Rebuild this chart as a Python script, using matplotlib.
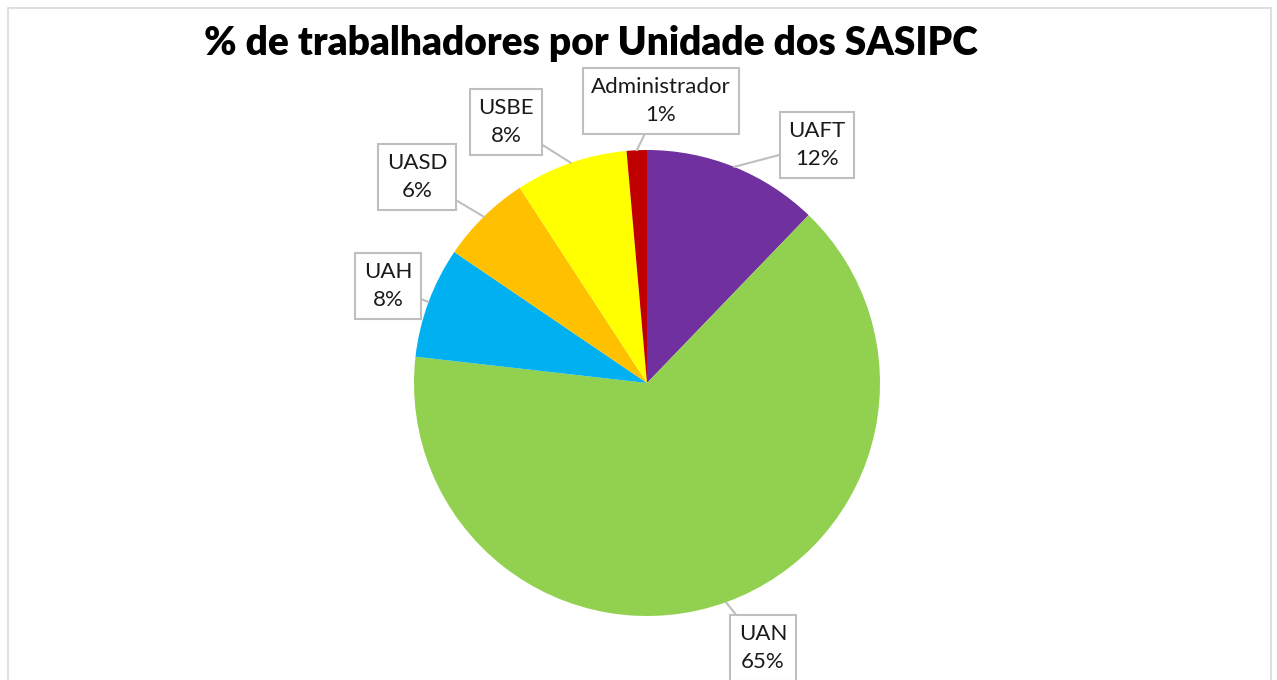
import numpy as np
import matplotlib.pyplot as plt
from matplotlib.patches import Rectangle

# dados (percentagens)
unidades = ["UAFT", "UAN", "UAH", "UASD", "USBE", "Administrador"]
valores = [12.2, 64.6, 7.7, 6.3, 7.8, 1.4]
cores = ["#7030A0", "#92D050", "#00B0F0", "#FFC000", "#FFFF00", "#C00000"]

# posicoes das caixas das etiquetas (pixels, y para cima)
caixas = {
    "UAFT": (817, 680 - 145),
    "UAN": (763, 680 - 648),
    "UAH": (388, 680 - 286),
    "UASD": (417, 680 - 177),
    "USBE": (506, 680 - 122),
    "Administrador": (661, 680 - 101),
}

W, H = 1277, 680
fig = plt.figure(figsize=(12.77, 6.8), dpi=100)
ax = fig.add_axes([0, 0, 1, 1])

# moldura do grafico
fig.patches.append(Rectangle((8 / W, -0.1), (1271 - 8) / W, (H - 8) / H + 0.1,
                             transform=fig.transFigure, fill=False,
                             edgecolor="#D9D9D9", linewidth=1.2))

cx, cy, r = 647, H - 383, 233
wedges, _ = ax.pie(valores, colors=cores, startangle=90, counterclock=False,
                   center=(cx, cy), radius=r, frame=True)
ax.set_xlim(0, W)
ax.set_ylim(0, H)
ax.set_aspect("equal")
ax.axis("off")

total = sum(valores)
for w, nome, v in zip(wedges, unidades, valores):
    ang = np.deg2rad((w.theta1 + w.theta2) / 2)
    px = cx + r * np.cos(ang)
    py = cy + r * np.sin(ang)
    pct = "%d%%" % round(v / total * 100)
    ax.annotate(nome + "\n" + pct, xy=(px, py), xytext=caixas[nome],
                ha="center", va="center", fontsize=16, family="Lato",
                linespacing=1.55, color="#1a1a1a",
                bbox=dict(boxstyle="square,pad=0.38", fc="white",
                          ec="#BFBFBF", lw=1.5),
                arrowprops=dict(arrowstyle="-", color="#BFBFBF", lw=1.5,
                                shrinkA=0, shrinkB=0))

fig.text(591 / W, 1 - 43 / H, "% de trabalhadores por Unidade dos SASIPC",
         ha="center", va="center", fontsize=28, fontweight="heavy",
         family="Lato")

fig.savefig("out.png", dpi=100)
